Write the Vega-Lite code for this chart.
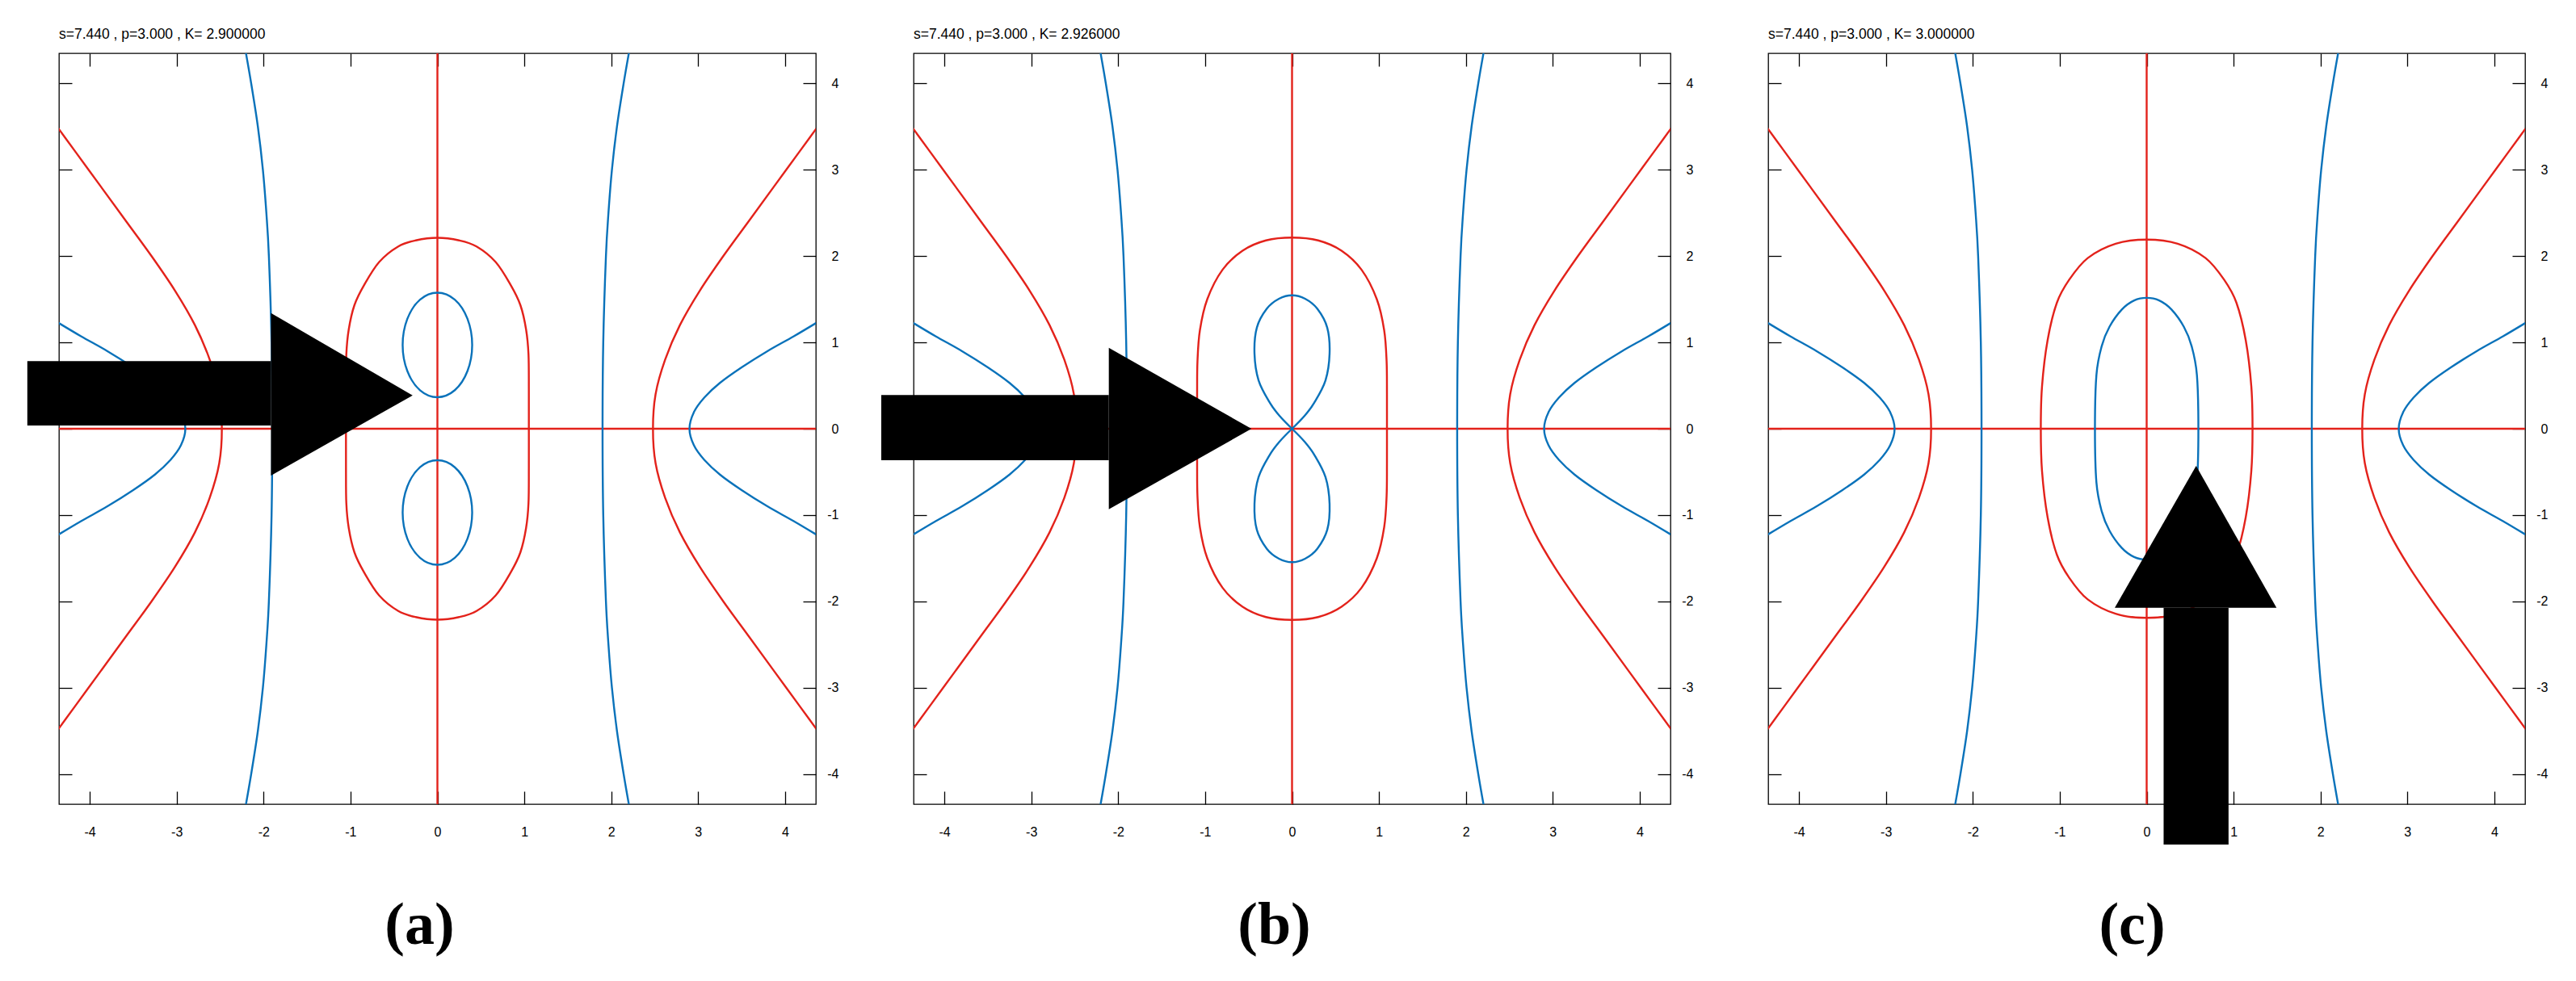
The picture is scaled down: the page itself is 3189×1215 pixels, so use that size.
{
  "$schema": "https://vega.github.io/schema/vega-lite/v6.json",
  "background": "white",
  "padding": {"left": 33, "top": 33, "right": 5, "bottom": 5},
  "spacing": 121,
  "bounds": "flush",
  "config": {
    "view": {"stroke": "#000000", "strokeWidth": 1.3},
    "axis": {"grid": false, "domain": false, "labelFont": "Liberation Sans", "labelFontSize": 16, "labelColor": "#000000", "tickColor": "#000000", "tickWidth": 1.3, "tickSize": -16, "labelFlush": false, "labelOverlap": false, "titleFont": "Liberation Serif", "titleFontWeight": "bold", "titleFontSize": 74, "titleColor": "#000000"},
    "title": {"anchor": "start", "frame": "group", "font": "Liberation Sans", "fontSize": 17.5, "fontWeight": "normal", "color": "#000000", "baseline": "alphabetic", "offset": 14}
  },
  "datasets": {
    "curves": [
      {"panel":"all","curve":"rx","colour":"red","i":0,"x":-4.4,"y":0},
      {"panel":"all","curve":"rx","colour":"red","i":1,"x":4.4,"y":0},
      {"panel":"all","curve":"ry","colour":"red","i":0,"x":0,"y":-4.4},
      {"panel":"all","curve":"ry","colour":"red","i":1,"x":0,"y":4.4},

      {"panel":"all","curve":"rhR","colour":"red","i":0,"x":4.45,"y":-3.6},
      {"panel":"all","curve":"rhR","colour":"red","i":1,"x":4.16,"y":-3.2},
      {"panel":"all","curve":"rhR","colour":"red","i":2,"x":3.87,"y":-2.8},
      {"panel":"all","curve":"rhR","colour":"red","i":3,"x":3.58,"y":-2.4},
      {"panel":"all","curve":"rhR","colour":"red","i":4,"x":3.29,"y":-2.0},
      {"panel":"all","curve":"rhR","colour":"red","i":5,"x":3.02,"y":-1.6},
      {"panel":"all","curve":"rhR","colour":"red","i":6,"x":2.79,"y":-1.2},
      {"panel":"all","curve":"rhR","colour":"red","i":7,"x":2.62,"y":-0.8},
      {"panel":"all","curve":"rhR","colour":"red","i":8,"x":2.51,"y":-0.4},
      {"panel":"all","curve":"rhR","colour":"red","i":9,"x":2.48,"y":0},
      {"panel":"all","curve":"rhR","colour":"red","i":10,"x":2.51,"y":0.4},
      {"panel":"all","curve":"rhR","colour":"red","i":11,"x":2.62,"y":0.8},
      {"panel":"all","curve":"rhR","colour":"red","i":12,"x":2.79,"y":1.2},
      {"panel":"all","curve":"rhR","colour":"red","i":13,"x":3.02,"y":1.6},
      {"panel":"all","curve":"rhR","colour":"red","i":14,"x":3.29,"y":2.0},
      {"panel":"all","curve":"rhR","colour":"red","i":15,"x":3.58,"y":2.4},
      {"panel":"all","curve":"rhR","colour":"red","i":16,"x":3.87,"y":2.8},
      {"panel":"all","curve":"rhR","colour":"red","i":17,"x":4.16,"y":3.2},
      {"panel":"all","curve":"rhR","colour":"red","i":18,"x":4.45,"y":3.6},

      {"panel":"all","curve":"rhL","colour":"red","i":0,"x":-4.45,"y":-3.6},
      {"panel":"all","curve":"rhL","colour":"red","i":1,"x":-4.16,"y":-3.2},
      {"panel":"all","curve":"rhL","colour":"red","i":2,"x":-3.87,"y":-2.8},
      {"panel":"all","curve":"rhL","colour":"red","i":3,"x":-3.58,"y":-2.4},
      {"panel":"all","curve":"rhL","colour":"red","i":4,"x":-3.29,"y":-2.0},
      {"panel":"all","curve":"rhL","colour":"red","i":5,"x":-3.02,"y":-1.6},
      {"panel":"all","curve":"rhL","colour":"red","i":6,"x":-2.79,"y":-1.2},
      {"panel":"all","curve":"rhL","colour":"red","i":7,"x":-2.62,"y":-0.8},
      {"panel":"all","curve":"rhL","colour":"red","i":8,"x":-2.51,"y":-0.4},
      {"panel":"all","curve":"rhL","colour":"red","i":9,"x":-2.48,"y":0},
      {"panel":"all","curve":"rhL","colour":"red","i":10,"x":-2.51,"y":0.4},
      {"panel":"all","curve":"rhL","colour":"red","i":11,"x":-2.62,"y":0.8},
      {"panel":"all","curve":"rhL","colour":"red","i":12,"x":-2.79,"y":1.2},
      {"panel":"all","curve":"rhL","colour":"red","i":13,"x":-3.02,"y":1.6},
      {"panel":"all","curve":"rhL","colour":"red","i":14,"x":-3.29,"y":2.0},
      {"panel":"all","curve":"rhL","colour":"red","i":15,"x":-3.58,"y":2.4},
      {"panel":"all","curve":"rhL","colour":"red","i":16,"x":-3.87,"y":2.8},
      {"panel":"all","curve":"rhL","colour":"red","i":17,"x":-4.16,"y":3.2},
      {"panel":"all","curve":"rhL","colour":"red","i":18,"x":-4.45,"y":3.6},

      {"panel":"all","curve":"bhR","colour":"blue","i":0,"x":4.4,"y":-1.25},
      {"panel":"all","curve":"bhR","colour":"blue","i":1,"x":4.1,"y":-1.07},
      {"panel":"all","curve":"bhR","colour":"blue","i":2,"x":3.8,"y":-0.9},
      {"panel":"all","curve":"bhR","colour":"blue","i":3,"x":3.5,"y":-0.71},
      {"panel":"all","curve":"bhR","colour":"blue","i":4,"x":3.25,"y":-0.53},
      {"panel":"all","curve":"bhR","colour":"blue","i":5,"x":3.07,"y":-0.36},
      {"panel":"all","curve":"bhR","colour":"blue","i":6,"x":2.95,"y":-0.19},
      {"panel":"all","curve":"bhR","colour":"blue","i":7,"x":2.9,"y":0},
      {"panel":"all","curve":"bhR","colour":"blue","i":8,"x":2.95,"y":0.19},
      {"panel":"all","curve":"bhR","colour":"blue","i":9,"x":3.07,"y":0.36},
      {"panel":"all","curve":"bhR","colour":"blue","i":10,"x":3.25,"y":0.53},
      {"panel":"all","curve":"bhR","colour":"blue","i":11,"x":3.5,"y":0.71},
      {"panel":"all","curve":"bhR","colour":"blue","i":12,"x":3.8,"y":0.9},
      {"panel":"all","curve":"bhR","colour":"blue","i":13,"x":4.1,"y":1.07},
      {"panel":"all","curve":"bhR","colour":"blue","i":14,"x":4.4,"y":1.25},

      {"panel":"all","curve":"bhL","colour":"blue","i":0,"x":-4.4,"y":-1.25},
      {"panel":"all","curve":"bhL","colour":"blue","i":1,"x":-4.1,"y":-1.07},
      {"panel":"all","curve":"bhL","colour":"blue","i":2,"x":-3.8,"y":-0.9},
      {"panel":"all","curve":"bhL","colour":"blue","i":3,"x":-3.5,"y":-0.71},
      {"panel":"all","curve":"bhL","colour":"blue","i":4,"x":-3.25,"y":-0.53},
      {"panel":"all","curve":"bhL","colour":"blue","i":5,"x":-3.07,"y":-0.36},
      {"panel":"all","curve":"bhL","colour":"blue","i":6,"x":-2.95,"y":-0.19},
      {"panel":"all","curve":"bhL","colour":"blue","i":7,"x":-2.9,"y":0},
      {"panel":"all","curve":"bhL","colour":"blue","i":8,"x":-2.95,"y":0.19},
      {"panel":"all","curve":"bhL","colour":"blue","i":9,"x":-3.07,"y":0.36},
      {"panel":"all","curve":"bhL","colour":"blue","i":10,"x":-3.25,"y":0.53},
      {"panel":"all","curve":"bhL","colour":"blue","i":11,"x":-3.5,"y":0.71},
      {"panel":"all","curve":"bhL","colour":"blue","i":12,"x":-3.8,"y":0.9},
      {"panel":"all","curve":"bhL","colour":"blue","i":13,"x":-4.1,"y":1.07},
      {"panel":"all","curve":"bhL","colour":"blue","i":14,"x":-4.4,"y":1.25},

      {"panel":"all","curve":"bvR","colour":"blue","i":0,"x":2.212,"y":-4.4},
      {"panel":"all","curve":"bvR","colour":"blue","i":1,"x":2.143,"y":-4.0},
      {"panel":"all","curve":"bvR","colour":"blue","i":2,"x":2.066,"y":-3.5},
      {"panel":"all","curve":"bvR","colour":"blue","i":3,"x":2.008,"y":-3.0},
      {"panel":"all","curve":"bvR","colour":"blue","i":4,"x":1.968,"y":-2.5},
      {"panel":"all","curve":"bvR","colour":"blue","i":5,"x":1.939,"y":-2.0},
      {"panel":"all","curve":"bvR","colour":"blue","i":6,"x":1.908,"y":-1.0},
      {"panel":"all","curve":"bvR","colour":"blue","i":7,"x":1.9,"y":0},
      {"panel":"all","curve":"bvR","colour":"blue","i":8,"x":1.908,"y":1.0},
      {"panel":"all","curve":"bvR","colour":"blue","i":9,"x":1.939,"y":2.0},
      {"panel":"all","curve":"bvR","colour":"blue","i":10,"x":1.968,"y":2.5},
      {"panel":"all","curve":"bvR","colour":"blue","i":11,"x":2.008,"y":3.0},
      {"panel":"all","curve":"bvR","colour":"blue","i":12,"x":2.066,"y":3.5},
      {"panel":"all","curve":"bvR","colour":"blue","i":13,"x":2.143,"y":4.0},
      {"panel":"all","curve":"bvR","colour":"blue","i":14,"x":2.212,"y":4.4},

      {"panel":"all","curve":"bvL","colour":"blue","i":0,"x":-2.212,"y":-4.4},
      {"panel":"all","curve":"bvL","colour":"blue","i":1,"x":-2.143,"y":-4.0},
      {"panel":"all","curve":"bvL","colour":"blue","i":2,"x":-2.066,"y":-3.5},
      {"panel":"all","curve":"bvL","colour":"blue","i":3,"x":-2.008,"y":-3.0},
      {"panel":"all","curve":"bvL","colour":"blue","i":4,"x":-1.968,"y":-2.5},
      {"panel":"all","curve":"bvL","colour":"blue","i":5,"x":-1.939,"y":-2.0},
      {"panel":"all","curve":"bvL","colour":"blue","i":6,"x":-1.908,"y":-1.0},
      {"panel":"all","curve":"bvL","colour":"blue","i":7,"x":-1.9,"y":0},
      {"panel":"all","curve":"bvL","colour":"blue","i":8,"x":-1.908,"y":1.0},
      {"panel":"all","curve":"bvL","colour":"blue","i":9,"x":-1.939,"y":2.0},
      {"panel":"all","curve":"bvL","colour":"blue","i":10,"x":-1.968,"y":2.5},
      {"panel":"all","curve":"bvL","colour":"blue","i":11,"x":-2.008,"y":3.0},
      {"panel":"all","curve":"bvL","colour":"blue","i":12,"x":-2.066,"y":3.5},
      {"panel":"all","curve":"bvL","colour":"blue","i":13,"x":-2.143,"y":4.0},
      {"panel":"all","curve":"bvL","colour":"blue","i":14,"x":-2.212,"y":4.4},

      {"panel":"b","curve":"beB1","colour":"blue","i":0,"x":0,"y":0},
      {"panel":"b","curve":"beB1","colour":"blue","i":1,"x":0.142,"y":0.147},
      {"panel":"b","curve":"beB1","colour":"blue","i":2,"x":0.255,"y":0.3},
      {"panel":"b","curve":"beB1","colour":"blue","i":3,"x":0.385,"y":0.56},
      {"panel":"b","curve":"beB1","colour":"blue","i":4,"x":0.432,"y":0.87},
      {"panel":"b","curve":"beB1","colour":"blue","i":5,"x":0.405,"y":1.17},
      {"panel":"b","curve":"beB1","colour":"blue","i":6,"x":0.29,"y":1.39},
      {"panel":"b","curve":"beB1","colour":"blue","i":7,"x":0.15,"y":1.505},
      {"panel":"b","curve":"beB1","colour":"blue","i":8,"x":0,"y":1.545},
      {"panel":"b","curve":"beB1","colour":"blue","i":9,"x":-0.15,"y":1.505},
      {"panel":"b","curve":"beB1","colour":"blue","i":10,"x":-0.29,"y":1.39},
      {"panel":"b","curve":"beB1","colour":"blue","i":11,"x":-0.405,"y":1.17},
      {"panel":"b","curve":"beB1","colour":"blue","i":12,"x":-0.432,"y":0.87},
      {"panel":"b","curve":"beB1","colour":"blue","i":13,"x":-0.385,"y":0.56},
      {"panel":"b","curve":"beB1","colour":"blue","i":14,"x":-0.255,"y":0.3},
      {"panel":"b","curve":"beB1","colour":"blue","i":15,"x":-0.142,"y":0.147},
      {"panel":"b","curve":"beB1","colour":"blue","i":16,"x":0,"y":0},

      {"panel":"b","curve":"beB2","colour":"blue","i":0,"x":0,"y":0},
      {"panel":"b","curve":"beB2","colour":"blue","i":1,"x":0.142,"y":-0.147},
      {"panel":"b","curve":"beB2","colour":"blue","i":2,"x":0.255,"y":-0.3},
      {"panel":"b","curve":"beB2","colour":"blue","i":3,"x":0.385,"y":-0.56},
      {"panel":"b","curve":"beB2","colour":"blue","i":4,"x":0.432,"y":-0.87},
      {"panel":"b","curve":"beB2","colour":"blue","i":5,"x":0.405,"y":-1.17},
      {"panel":"b","curve":"beB2","colour":"blue","i":6,"x":0.29,"y":-1.39},
      {"panel":"b","curve":"beB2","colour":"blue","i":7,"x":0.15,"y":-1.505},
      {"panel":"b","curve":"beB2","colour":"blue","i":8,"x":0,"y":-1.545},
      {"panel":"b","curve":"beB2","colour":"blue","i":9,"x":-0.15,"y":-1.505},
      {"panel":"b","curve":"beB2","colour":"blue","i":10,"x":-0.29,"y":-1.39},
      {"panel":"b","curve":"beB2","colour":"blue","i":11,"x":-0.405,"y":-1.17},
      {"panel":"b","curve":"beB2","colour":"blue","i":12,"x":-0.432,"y":-0.87},
      {"panel":"b","curve":"beB2","colour":"blue","i":13,"x":-0.385,"y":-0.56},
      {"panel":"b","curve":"beB2","colour":"blue","i":14,"x":-0.255,"y":-0.3},
      {"panel":"b","curve":"beB2","colour":"blue","i":15,"x":-0.142,"y":-0.147},
      {"panel":"b","curve":"beB2","colour":"blue","i":16,"x":0,"y":0}
    ],
    "loops": [
      {"panel":"a","curve":"roA","colour":"red","i":0,"x":1.052,"y":0},
      {"panel":"a","curve":"roA","colour":"red","i":1,"x":1.052,"y":0.45},
      {"panel":"a","curve":"roA","colour":"red","i":2,"x":1.048,"y":0.86},
      {"panel":"a","curve":"roA","colour":"red","i":3,"x":1.02,"y":1.15},
      {"panel":"a","curve":"roA","colour":"red","i":4,"x":0.955,"y":1.43},
      {"panel":"a","curve":"roA","colour":"red","i":5,"x":0.845,"y":1.66},
      {"panel":"a","curve":"roA","colour":"red","i":6,"x":0.67,"y":1.93},
      {"panel":"a","curve":"roA","colour":"red","i":7,"x":0.45,"y":2.11},
      {"panel":"a","curve":"roA","colour":"red","i":8,"x":0.25,"y":2.18},
      {"panel":"a","curve":"roA","colour":"red","i":9,"x":0,"y":2.21},
      {"panel":"a","curve":"roA","colour":"red","i":10,"x":-0.25,"y":2.18},
      {"panel":"a","curve":"roA","colour":"red","i":11,"x":-0.45,"y":2.11},
      {"panel":"a","curve":"roA","colour":"red","i":12,"x":-0.67,"y":1.93},
      {"panel":"a","curve":"roA","colour":"red","i":13,"x":-0.845,"y":1.66},
      {"panel":"a","curve":"roA","colour":"red","i":14,"x":-0.955,"y":1.43},
      {"panel":"a","curve":"roA","colour":"red","i":15,"x":-1.02,"y":1.15},
      {"panel":"a","curve":"roA","colour":"red","i":16,"x":-1.048,"y":0.86},
      {"panel":"a","curve":"roA","colour":"red","i":17,"x":-1.052,"y":0.45},
      {"panel":"a","curve":"roA","colour":"red","i":18,"x":-1.052,"y":0},
      {"panel":"a","curve":"roA","colour":"red","i":19,"x":-1.052,"y":-0.45},
      {"panel":"a","curve":"roA","colour":"red","i":20,"x":-1.048,"y":-0.86},
      {"panel":"a","curve":"roA","colour":"red","i":21,"x":-1.02,"y":-1.15},
      {"panel":"a","curve":"roA","colour":"red","i":22,"x":-0.955,"y":-1.43},
      {"panel":"a","curve":"roA","colour":"red","i":23,"x":-0.845,"y":-1.66},
      {"panel":"a","curve":"roA","colour":"red","i":24,"x":-0.67,"y":-1.93},
      {"panel":"a","curve":"roA","colour":"red","i":25,"x":-0.45,"y":-2.11},
      {"panel":"a","curve":"roA","colour":"red","i":26,"x":-0.25,"y":-2.18},
      {"panel":"a","curve":"roA","colour":"red","i":27,"x":0,"y":-2.21},
      {"panel":"a","curve":"roA","colour":"red","i":28,"x":0.25,"y":-2.18},
      {"panel":"a","curve":"roA","colour":"red","i":29,"x":0.45,"y":-2.11},
      {"panel":"a","curve":"roA","colour":"red","i":30,"x":0.67,"y":-1.93},
      {"panel":"a","curve":"roA","colour":"red","i":31,"x":0.845,"y":-1.66},
      {"panel":"a","curve":"roA","colour":"red","i":32,"x":0.955,"y":-1.43},
      {"panel":"a","curve":"roA","colour":"red","i":33,"x":1.02,"y":-1.15},
      {"panel":"a","curve":"roA","colour":"red","i":34,"x":1.048,"y":-0.86},
      {"panel":"a","curve":"roA","colour":"red","i":35,"x":1.052,"y":-0.45},

      {"panel":"a","curve":"boA1","colour":"blue","i":0,"x":0,"y":1.575},
      {"panel":"a","curve":"boA1","colour":"blue","i":1,"x":0.2,"y":1.494},
      {"panel":"a","curve":"boA1","colour":"blue","i":2,"x":0.346,"y":1.272},
      {"panel":"a","curve":"boA1","colour":"blue","i":3,"x":0.4,"y":0.97},
      {"panel":"a","curve":"boA1","colour":"blue","i":4,"x":0.346,"y":0.668},
      {"panel":"a","curve":"boA1","colour":"blue","i":5,"x":0.2,"y":0.446},
      {"panel":"a","curve":"boA1","colour":"blue","i":6,"x":0,"y":0.365},
      {"panel":"a","curve":"boA1","colour":"blue","i":7,"x":-0.2,"y":0.446},
      {"panel":"a","curve":"boA1","colour":"blue","i":8,"x":-0.346,"y":0.668},
      {"panel":"a","curve":"boA1","colour":"blue","i":9,"x":-0.4,"y":0.97},
      {"panel":"a","curve":"boA1","colour":"blue","i":10,"x":-0.346,"y":1.272},
      {"panel":"a","curve":"boA1","colour":"blue","i":11,"x":-0.2,"y":1.494},

      {"panel":"a","curve":"boA2","colour":"blue","i":0,"x":0,"y":-1.575},
      {"panel":"a","curve":"boA2","colour":"blue","i":1,"x":0.2,"y":-1.494},
      {"panel":"a","curve":"boA2","colour":"blue","i":2,"x":0.346,"y":-1.272},
      {"panel":"a","curve":"boA2","colour":"blue","i":3,"x":0.4,"y":-0.97},
      {"panel":"a","curve":"boA2","colour":"blue","i":4,"x":0.346,"y":-0.668},
      {"panel":"a","curve":"boA2","colour":"blue","i":5,"x":0.2,"y":-0.446},
      {"panel":"a","curve":"boA2","colour":"blue","i":6,"x":0,"y":-0.365},
      {"panel":"a","curve":"boA2","colour":"blue","i":7,"x":-0.2,"y":-0.446},
      {"panel":"a","curve":"boA2","colour":"blue","i":8,"x":-0.346,"y":-0.668},
      {"panel":"a","curve":"boA2","colour":"blue","i":9,"x":-0.4,"y":-0.97},
      {"panel":"a","curve":"boA2","colour":"blue","i":10,"x":-0.346,"y":-1.272},
      {"panel":"a","curve":"boA2","colour":"blue","i":11,"x":-0.2,"y":-1.494},

      {"panel":"b","curve":"roB","colour":"red","i":0,"x":1.092,"y":0},
      {"panel":"b","curve":"roB","colour":"red","i":1,"x":1.092,"y":0.4},
      {"panel":"b","curve":"roB","colour":"red","i":2,"x":1.088,"y":0.78},
      {"panel":"b","curve":"roB","colour":"red","i":3,"x":1.06,"y":1.14},
      {"panel":"b","curve":"roB","colour":"red","i":4,"x":0.975,"y":1.5},
      {"panel":"b","curve":"roB","colour":"red","i":5,"x":0.8,"y":1.84},
      {"panel":"b","curve":"roB","colour":"red","i":6,"x":0.569,"y":2.061},
      {"panel":"b","curve":"roB","colour":"red","i":7,"x":0.3,"y":2.18},
      {"panel":"b","curve":"roB","colour":"red","i":8,"x":0,"y":2.213},
      {"panel":"b","curve":"roB","colour":"red","i":9,"x":-0.3,"y":2.18},
      {"panel":"b","curve":"roB","colour":"red","i":10,"x":-0.569,"y":2.061},
      {"panel":"b","curve":"roB","colour":"red","i":11,"x":-0.8,"y":1.84},
      {"panel":"b","curve":"roB","colour":"red","i":12,"x":-0.975,"y":1.5},
      {"panel":"b","curve":"roB","colour":"red","i":13,"x":-1.06,"y":1.14},
      {"panel":"b","curve":"roB","colour":"red","i":14,"x":-1.088,"y":0.78},
      {"panel":"b","curve":"roB","colour":"red","i":15,"x":-1.092,"y":0.4},
      {"panel":"b","curve":"roB","colour":"red","i":16,"x":-1.092,"y":0},
      {"panel":"b","curve":"roB","colour":"red","i":17,"x":-1.092,"y":-0.4},
      {"panel":"b","curve":"roB","colour":"red","i":18,"x":-1.088,"y":-0.78},
      {"panel":"b","curve":"roB","colour":"red","i":19,"x":-1.06,"y":-1.14},
      {"panel":"b","curve":"roB","colour":"red","i":20,"x":-0.975,"y":-1.5},
      {"panel":"b","curve":"roB","colour":"red","i":21,"x":-0.8,"y":-1.84},
      {"panel":"b","curve":"roB","colour":"red","i":22,"x":-0.569,"y":-2.061},
      {"panel":"b","curve":"roB","colour":"red","i":23,"x":-0.3,"y":-2.18},
      {"panel":"b","curve":"roB","colour":"red","i":24,"x":0,"y":-2.213},
      {"panel":"b","curve":"roB","colour":"red","i":25,"x":0.3,"y":-2.18},
      {"panel":"b","curve":"roB","colour":"red","i":26,"x":0.569,"y":-2.061},
      {"panel":"b","curve":"roB","colour":"red","i":27,"x":0.8,"y":-1.84},
      {"panel":"b","curve":"roB","colour":"red","i":28,"x":0.975,"y":-1.5},
      {"panel":"b","curve":"roB","colour":"red","i":29,"x":1.06,"y":-1.14},
      {"panel":"b","curve":"roB","colour":"red","i":30,"x":1.088,"y":-0.78},
      {"panel":"b","curve":"roB","colour":"red","i":31,"x":1.092,"y":-0.4},

      {"panel":"c","curve":"roC","colour":"red","i":0,"x":1.218,"y":0},
      {"panel":"c","curve":"roC","colour":"red","i":1,"x":1.204,"y":0.49},
      {"panel":"c","curve":"roC","colour":"red","i":2,"x":1.14,"y":1.024},
      {"panel":"c","curve":"roC","colour":"red","i":3,"x":1.033,"y":1.458},
      {"panel":"c","curve":"roC","colour":"red","i":4,"x":0.891,"y":1.725},
      {"panel":"c","curve":"roC","colour":"red","i":5,"x":0.678,"y":1.976},
      {"panel":"c","curve":"roC","colour":"red","i":6,"x":0.357,"y":2.142},
      {"panel":"c","curve":"roC","colour":"red","i":7,"x":0,"y":2.19},
      {"panel":"c","curve":"roC","colour":"red","i":8,"x":-0.357,"y":2.142},
      {"panel":"c","curve":"roC","colour":"red","i":9,"x":-0.678,"y":1.976},
      {"panel":"c","curve":"roC","colour":"red","i":10,"x":-0.891,"y":1.725},
      {"panel":"c","curve":"roC","colour":"red","i":11,"x":-1.033,"y":1.458},
      {"panel":"c","curve":"roC","colour":"red","i":12,"x":-1.14,"y":1.024},
      {"panel":"c","curve":"roC","colour":"red","i":13,"x":-1.204,"y":0.49},
      {"panel":"c","curve":"roC","colour":"red","i":14,"x":-1.218,"y":0},
      {"panel":"c","curve":"roC","colour":"red","i":15,"x":-1.204,"y":-0.49},
      {"panel":"c","curve":"roC","colour":"red","i":16,"x":-1.14,"y":-1.024},
      {"panel":"c","curve":"roC","colour":"red","i":17,"x":-1.033,"y":-1.458},
      {"panel":"c","curve":"roC","colour":"red","i":18,"x":-0.891,"y":-1.725},
      {"panel":"c","curve":"roC","colour":"red","i":19,"x":-0.678,"y":-1.976},
      {"panel":"c","curve":"roC","colour":"red","i":20,"x":-0.357,"y":-2.142},
      {"panel":"c","curve":"roC","colour":"red","i":21,"x":0,"y":-2.19},
      {"panel":"c","curve":"roC","colour":"red","i":22,"x":0.357,"y":-2.142},
      {"panel":"c","curve":"roC","colour":"red","i":23,"x":0.678,"y":-1.976},
      {"panel":"c","curve":"roC","colour":"red","i":24,"x":0.891,"y":-1.725},
      {"panel":"c","curve":"roC","colour":"red","i":25,"x":1.033,"y":-1.458},
      {"panel":"c","curve":"roC","colour":"red","i":26,"x":1.14,"y":-1.024},
      {"panel":"c","curve":"roC","colour":"red","i":27,"x":1.204,"y":-0.49},

      {"panel":"c","curve":"boC","colour":"blue","i":0,"x":0.595,"y":0},
      {"panel":"c","curve":"boC","colour":"blue","i":1,"x":0.578,"y":0.623},
      {"panel":"c","curve":"boC","colour":"blue","i":2,"x":0.517,"y":0.957},
      {"panel":"c","curve":"boC","colour":"blue","i":3,"x":0.428,"y":1.18},
      {"panel":"c","curve":"boC","colour":"blue","i":4,"x":0.286,"y":1.38},
      {"panel":"c","curve":"boC","colour":"blue","i":5,"x":0.144,"y":1.485},
      {"panel":"c","curve":"boC","colour":"blue","i":6,"x":0,"y":1.515},
      {"panel":"c","curve":"boC","colour":"blue","i":7,"x":-0.144,"y":1.485},
      {"panel":"c","curve":"boC","colour":"blue","i":8,"x":-0.286,"y":1.38},
      {"panel":"c","curve":"boC","colour":"blue","i":9,"x":-0.428,"y":1.18},
      {"panel":"c","curve":"boC","colour":"blue","i":10,"x":-0.517,"y":0.957},
      {"panel":"c","curve":"boC","colour":"blue","i":11,"x":-0.578,"y":0.623},
      {"panel":"c","curve":"boC","colour":"blue","i":12,"x":-0.595,"y":0},
      {"panel":"c","curve":"boC","colour":"blue","i":13,"x":-0.578,"y":-0.623},
      {"panel":"c","curve":"boC","colour":"blue","i":14,"x":-0.517,"y":-0.957},
      {"panel":"c","curve":"boC","colour":"blue","i":15,"x":-0.428,"y":-1.18},
      {"panel":"c","curve":"boC","colour":"blue","i":16,"x":-0.286,"y":-1.38},
      {"panel":"c","curve":"boC","colour":"blue","i":17,"x":-0.144,"y":-1.485},
      {"panel":"c","curve":"boC","colour":"blue","i":18,"x":0,"y":-1.515},
      {"panel":"c","curve":"boC","colour":"blue","i":19,"x":0.144,"y":-1.485},
      {"panel":"c","curve":"boC","colour":"blue","i":20,"x":0.286,"y":-1.38},
      {"panel":"c","curve":"boC","colour":"blue","i":21,"x":0.428,"y":-1.18},
      {"panel":"c","curve":"boC","colour":"blue","i":22,"x":0.517,"y":-0.957},
      {"panel":"c","curve":"boC","colour":"blue","i":23,"x":0.578,"y":-0.623}
    ],
    "shafts": [
      {"panel":"a","x1":-4.718,"x2":-1.915,"y1":0.038,"y2":0.782},
      {"panel":"b","x1":-4.726,"x2":-2.108,"y1":-0.364,"y2":0.39},
      {"panel":"c","x1":0.195,"x2":0.942,"y1":-4.813,"y2":-2.073}
    ],
    "heads": [
      {"panel":"a","along":-1.915,"from":-0.541,"to":1.34},
      {"panel":"a","along":-0.285,"from":0.386,"to":0.386},
      {"panel":"b","along":-2.108,"from":-0.932,"to":0.937},
      {"panel":"b","along":-0.467,"from":0,"to":0},
      {"panel":"c","along":-2.073,"from":-0.367,"to":1.494},
      {"panel":"c","along":-0.43,"from":0.569,"to":0.569}
    ]
  },
  "hconcat": [
    {
      "width": 937, "height": 930,
      "title": {"text": "s=7.440 , p=3.000 , K= 2.900000"},
      "resolve": {"axis": {"x": "independent", "y": "independent"}},
      "layer": [
        {
          "data": {"name": "curves"},
          "transform": [{"filter": "datum.panel == 'a' || datum.panel == 'all'"}],
          "mark": {"type": "line", "interpolate": "cardinal", "strokeWidth": 2.4, "clip": true},
          "encoding": {
            "x": {"field": "x", "type": "quantitative", "scale": {"domain": [-4.354, 4.354], "nice": false, "zero": false},
              "axis": {"orient": "bottom", "values": [-4,-3,-2,-1,0,1,2,3,4], "labelExpr": "replace(datum.label, '\u2212', '-')", "labelBaseline": "middle", "labelPadding": 50, "title": "(a)", "titleBaseline": "alphabetic", "titlePadding": 130, "titleX": 446, "titleAlign": "center"}},
            "y": {"field": "y", "type": "quantitative", "scale": {"domain": [-4.346, 4.346], "nice": false, "zero": false},
              "axis": {"orient": "right", "values": [-4,-3,-2,-1,0,1,2,3,4], "labelExpr": "replace(datum.label, '\u2212', '-')", "labelAlign": "right", "labelBaseline": "middle", "labelPadding": 44, "title": null}},
            "detail": {"field": "curve", "type": "nominal"},
            "order": {"field": "i", "type": "quantitative"},
            "color": {"field": "colour", "type": "nominal", "scale": {"domain": ["red", "blue"], "range": ["#e3221b", "#0a72ba"]}, "legend": null}
          }
        },
        {
          "data": {"name": "loops"},
          "transform": [{"filter": "datum.panel == 'a'"}],
          "mark": {"type": "line", "interpolate": "cardinal-closed", "strokeWidth": 2.4, "clip": true},
          "encoding": {
            "x": {"field": "x", "type": "quantitative", "scale": {"domain": [-4.354, 4.354], "nice": false, "zero": false}, "axis": null},
            "y": {"field": "y", "type": "quantitative", "scale": {"domain": [-4.346, 4.346], "nice": false, "zero": false}, "axis": null},
            "detail": {"field": "curve", "type": "nominal"},
            "order": {"field": "i", "type": "quantitative"},
            "color": {"field": "colour", "type": "nominal", "scale": {"domain": ["red", "blue"], "range": ["#e3221b", "#0a72ba"]}, "legend": null}
          }
        },
        {
          "data": {"name": "shafts"},
          "transform": [{"filter": "datum.panel == 'a'"}],
          "mark": {"type": "rect", "color": "#000000", "clip": false},
          "encoding": {
            "x": {"field": "x1", "type": "quantitative", "scale": {"domain": [-4.354, 4.354], "nice": false, "zero": false},
              "axis": {"orient": "top", "values": [-4,-3,-2,-1,0,1,2,3,4], "labels": false, "title": null}},
            "x2": {"field": "x2"},
            "y": {"field": "y1", "type": "quantitative", "scale": {"domain": [-4.346, 4.346], "nice": false, "zero": false},
              "axis": {"orient": "left", "values": [-4,-3,-2,-1,0,1,2,3,4], "labels": false, "title": null}},
            "y2": {"field": "y2"}
          }
        },
        {
          "data": {"name": "heads"},
          "transform": [{"filter": "datum.panel == 'a'"}],
          "mark": {"type": "area", "color": "#000000", "clip": false, "orient": "vertical"},
          "encoding": {
            "x": {"field": "along", "type": "quantitative", "scale": {"domain": [-4.354, 4.354], "nice": false, "zero": false}, "axis": null},
            "y": {"field": "from", "type": "quantitative", "scale": {"domain": [-4.346, 4.346], "nice": false, "zero": false}, "axis": null},
            "y2": {"field": "to"}
          }
        }
      ]
    },
    {
      "width": 937, "height": 930,
      "title": {"text": "s=7.440 , p=3.000 , K= 2.926000"},
      "resolve": {"axis": {"x": "independent", "y": "independent"}},
      "layer": [
        {
          "data": {"name": "curves"},
          "transform": [{"filter": "datum.panel == 'b' || datum.panel == 'all'"}],
          "mark": {"type": "line", "interpolate": "cardinal", "strokeWidth": 2.4, "clip": true},
          "encoding": {
            "x": {"field": "x", "type": "quantitative", "scale": {"domain": [-4.354, 4.354], "nice": false, "zero": false},
              "axis": {"orient": "bottom", "values": [-4,-3,-2,-1,0,1,2,3,4], "labelExpr": "replace(datum.label, '\u2212', '-')", "labelBaseline": "middle", "labelPadding": 50, "title": "(b)", "titleBaseline": "alphabetic", "titlePadding": 130, "titleX": 446, "titleAlign": "center"}},
            "y": {"field": "y", "type": "quantitative", "scale": {"domain": [-4.346, 4.346], "nice": false, "zero": false},
              "axis": {"orient": "right", "values": [-4,-3,-2,-1,0,1,2,3,4], "labelExpr": "replace(datum.label, '\u2212', '-')", "labelAlign": "right", "labelBaseline": "middle", "labelPadding": 44, "title": null}},
            "detail": {"field": "curve", "type": "nominal"},
            "order": {"field": "i", "type": "quantitative"},
            "color": {"field": "colour", "type": "nominal", "scale": {"domain": ["red", "blue"], "range": ["#e3221b", "#0a72ba"]}, "legend": null}
          }
        },
        {
          "data": {"name": "loops"},
          "transform": [{"filter": "datum.panel == 'b'"}],
          "mark": {"type": "line", "interpolate": "cardinal-closed", "strokeWidth": 2.4, "clip": true},
          "encoding": {
            "x": {"field": "x", "type": "quantitative", "scale": {"domain": [-4.354, 4.354], "nice": false, "zero": false}, "axis": null},
            "y": {"field": "y", "type": "quantitative", "scale": {"domain": [-4.346, 4.346], "nice": false, "zero": false}, "axis": null},
            "detail": {"field": "curve", "type": "nominal"},
            "order": {"field": "i", "type": "quantitative"},
            "color": {"field": "colour", "type": "nominal", "scale": {"domain": ["red", "blue"], "range": ["#e3221b", "#0a72ba"]}, "legend": null}
          }
        },
        {
          "data": {"name": "shafts"},
          "transform": [{"filter": "datum.panel == 'b'"}],
          "mark": {"type": "rect", "color": "#000000", "clip": false},
          "encoding": {
            "x": {"field": "x1", "type": "quantitative", "scale": {"domain": [-4.354, 4.354], "nice": false, "zero": false},
              "axis": {"orient": "top", "values": [-4,-3,-2,-1,0,1,2,3,4], "labels": false, "title": null}},
            "x2": {"field": "x2"},
            "y": {"field": "y1", "type": "quantitative", "scale": {"domain": [-4.346, 4.346], "nice": false, "zero": false},
              "axis": {"orient": "left", "values": [-4,-3,-2,-1,0,1,2,3,4], "labels": false, "title": null}},
            "y2": {"field": "y2"}
          }
        },
        {
          "data": {"name": "heads"},
          "transform": [{"filter": "datum.panel == 'b'"}],
          "mark": {"type": "area", "color": "#000000", "clip": false, "orient": "vertical"},
          "encoding": {
            "x": {"field": "along", "type": "quantitative", "scale": {"domain": [-4.354, 4.354], "nice": false, "zero": false}, "axis": null},
            "y": {"field": "from", "type": "quantitative", "scale": {"domain": [-4.346, 4.346], "nice": false, "zero": false}, "axis": null},
            "y2": {"field": "to"}
          }
        }
      ]
    },
    {
      "width": 937, "height": 930,
      "title": {"text": "s=7.440 , p=3.000 , K= 3.000000"},
      "resolve": {"axis": {"x": "independent", "y": "independent"}},
      "layer": [
        {
          "data": {"name": "curves"},
          "transform": [{"filter": "datum.panel == 'c' || datum.panel == 'all'"}],
          "mark": {"type": "line", "interpolate": "cardinal", "strokeWidth": 2.4, "clip": true},
          "encoding": {
            "x": {"field": "x", "type": "quantitative", "scale": {"domain": [-4.354, 4.354], "nice": false, "zero": false},
              "axis": {"orient": "bottom", "values": [-4,-3,-2,-1,0,1,2,3,4], "labelExpr": "replace(datum.label, '\u2212', '-')", "labelBaseline": "middle", "labelPadding": 50, "title": "(c)", "titleBaseline": "alphabetic", "titlePadding": 130, "titleX": 450, "titleAlign": "center"}},
            "y": {"field": "y", "type": "quantitative", "scale": {"domain": [-4.346, 4.346], "nice": false, "zero": false},
              "axis": {"orient": "right", "values": [-4,-3,-2,-1,0,1,2,3,4], "labelExpr": "replace(datum.label, '\u2212', '-')", "labelAlign": "right", "labelBaseline": "middle", "labelPadding": 44, "title": null}},
            "detail": {"field": "curve", "type": "nominal"},
            "order": {"field": "i", "type": "quantitative"},
            "color": {"field": "colour", "type": "nominal", "scale": {"domain": ["red", "blue"], "range": ["#e3221b", "#0a72ba"]}, "legend": null}
          }
        },
        {
          "data": {"name": "loops"},
          "transform": [{"filter": "datum.panel == 'c'"}],
          "mark": {"type": "line", "interpolate": "cardinal-closed", "strokeWidth": 2.4, "clip": true},
          "encoding": {
            "x": {"field": "x", "type": "quantitative", "scale": {"domain": [-4.354, 4.354], "nice": false, "zero": false}, "axis": null},
            "y": {"field": "y", "type": "quantitative", "scale": {"domain": [-4.346, 4.346], "nice": false, "zero": false}, "axis": null},
            "detail": {"field": "curve", "type": "nominal"},
            "order": {"field": "i", "type": "quantitative"},
            "color": {"field": "colour", "type": "nominal", "scale": {"domain": ["red", "blue"], "range": ["#e3221b", "#0a72ba"]}, "legend": null}
          }
        },
        {
          "data": {"name": "shafts"},
          "transform": [{"filter": "datum.panel == 'c'"}],
          "mark": {"type": "rect", "color": "#000000", "clip": false},
          "encoding": {
            "x": {"field": "x1", "type": "quantitative", "scale": {"domain": [-4.354, 4.354], "nice": false, "zero": false},
              "axis": {"orient": "top", "values": [-4,-3,-2,-1,0,1,2,3,4], "labels": false, "title": null}},
            "x2": {"field": "x2"},
            "y": {"field": "y1", "type": "quantitative", "scale": {"domain": [-4.346, 4.346], "nice": false, "zero": false},
              "axis": {"orient": "left", "values": [-4,-3,-2,-1,0,1,2,3,4], "labels": false, "title": null}},
            "y2": {"field": "y2"}
          }
        },
        {
          "data": {"name": "heads"},
          "transform": [{"filter": "datum.panel == 'c'"}],
          "mark": {"type": "area", "color": "#000000", "clip": false, "orient": "horizontal"},
          "encoding": {
            "y": {"field": "along", "type": "quantitative", "scale": {"domain": [-4.346, 4.346], "nice": false, "zero": false}, "axis": null},
            "x": {"field": "from", "type": "quantitative", "scale": {"domain": [-4.354, 4.354], "nice": false, "zero": false}, "axis": null},
            "x2": {"field": "to"}
          }
        }
      ]
    }
  ]
}
